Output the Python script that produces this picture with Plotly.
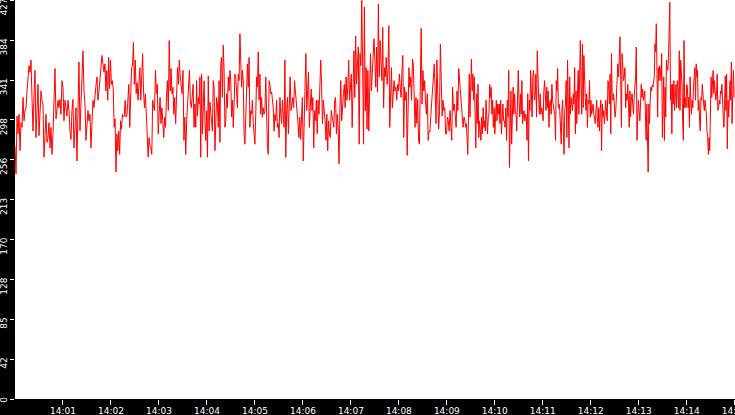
import numpy as np
import pandas as pd
import plotly.graph_objects as go

# Readings, in eight consecutive 112.5-second blocks from 14:00:00 to 14:15:00
seg_1 = [271,241,303,284,305,266,296,291,323,298,309,312,330,345,357,350,363,323,287,325,352,280,305,337,282,312,330,320,316,259,295,305,275,280,296,269,291,262,284,327,354,300,311,320,312,321,305,341,334,298,320,307,303,320,309,287,278,309,321,269,293,312,255,298,361,287,320,355,373,330,316,277,291,309,298,305,269,305,320,312,327,336,345,320,330,341,355,368,359,350]
seg_2 = [359,330,352,320,366,332,363,337,341,332,291,300,243,284,266,287,262,298,289,305,302,303,320,302,305,320,337,291,320,355,357,382,337,363,327,339,320,341,355,320,345,370,330,312,327,291,284,259,280,271,269,262,320,312,309,352,327,337,284,305,323,295,312,298,280,302,291,323,341,309,384,330,354,327,334,305,323,295,341,355,337,363,345,334,327,352,277,302,262,298,320,330,352,320,312,323,337,291]
seg_3 = [316,291,341,303,323,316,345,259,348,284,309,341,298,277,309,259,346,287,318,305,296,287,341,334,266,309,323,316,291,341,275,359,366,323,379,352,291,298,327,312,345,330,352,341,302,320,291,316,348,345,327,312,348,341,391,359,334,352,341,284,273,302,327,359,334,366,291,309,305,320,295,277,273,305,345,334,372,320,348,305,323,302,312,305,309,345,298,271,262,341,337,327,329,320,312,287,305,298,320,291,295,280,323,305,295,320,302,291]
seg_4 = [363,259,309,323,284,316,345,309,320,323,312,341,330,320,309,295,280,302,278,302,323,255,302,341,370,309,345,350,291,320,332,309,323,269,309,298,320,284,320,305,355,363,337,295,320,309,298,277,305,266,298,284,280,309,302,295,291,320,323,284,305,287,252,312,341,298,320,327,337,312,345,320,334,363,320,337,348,291,355,373,323,389,337,355,377,273,370,357,427,355,273,420,309,355,289,352,287,330,370,330,345,363,386]
seg_5 = [363,334,377,329,423,345,384,363,341,398,312,355,345,366,337,352,400,291,323,355,312,337,341,330,334,320,337,330,348,334,323,352,368,280,334,320,329,261,309,355,334,345,320,364,359,320,291,323,295,321,277,273,334,397,316,352,330,341,318,305,327,277,287,286,303,320,323,348,359,330,295,363,305,289,309,380,341,303,320,309,312,284,284,302,298,287,309,291,277,334,309,316,295,291,330,309,354,341,325,316,309,291,302]
seg_6 = [298,291,295,280,262,305,348,302,345,364,330,348,320,345,305,269,327,295,337,280,298,287,277,302,284,312,291,298,287,320,298,284,302,305,337,323,334,305,320,291,312,284,302,320,298,316,305,316,295,320,284,302,316,298,298,291,312,277,320,302,352,248,302,330,273,320,334,305,327,309,305,287,312,352,320,302,327,305,341,295,305,309,298,305,302,277,327,255,320,309,352,320,302,345,352,320,323,348,302,373,323,320,305,327,305,312,309,298,330,341,327,309,334,312,330,291,316,320,305,337,320,312,309]
seg_7 = [305,277,341,330,354,312,316,309,291,273,309,320,287,262,309,316,341,280,363,312,269,345,305,323,316,309,327,316,355,284,330,295,327,352,305,350,384,337,305,380,312,368,337,323,309,327,291,320,316,341,302,320,305,312,316,305,302,295,309,320,302,291,312,287,309,320,266,316,302,309,295,316,320,305,298,341,337,316,348,284,370,323,320,327,312,302,309,323,334,359,345,363,388,341,291,370,348,341,345,355,312,327,320,337,316,291,330,302,320,327,316,305,323,334,345,377,277,305,320,309,298,316,337,323,332,320,327]
seg_8 = [330,302,277,316,280,243,316,295,320,334,330,336,334,341,345,380,372,402,363,302,355,341,357,352,341,370,280,320,345,277,334,302,363,355,352,366,388,425,320,337,284,337,316,341,309,327,337,312,341,334,312,373,309,363,345,337,298,277,384,312,323,312,337,334,312,323,291,345,320,305,320,312,334,348,355,320,359,345,352,309,320,298,287,323,320,337,320,316,309,320,312,305,287,280,262,280,266,316,345,323,337,352,327,341,330,320,327,348,309,312,320,316,330,327,337,309,302,291,320,346,309,348,268,320,302,327,341,320,361,295,341,352,323]

segments = [seg_1, seg_2, seg_3, seg_4, seg_5, seg_6, seg_7, seg_8]
start_time = "2024-01-01 14:00:00"
end_time = "2024-01-01 14:15:00"
block_seconds = 112.5

x_tick_labels = ["14:01", "14:02", "14:03", "14:04", "14:05", "14:06", "14:07", "14:08",
                 "14:09", "14:10", "14:11", "14:12", "14:13", "14:14", "14:15"]

y_max = 427
y_tick_vals = [y_max * k / 10 for k in range(11)]
y_tick_text = [str(int(v)) for v in y_tick_vals]

t0 = pd.Timestamp(start_time)
times, values = [], []
for k, seg in enumerate(segments):
    offs = np.arange(len(seg)) * block_seconds / len(seg) + k * block_seconds
    times.extend(t0 + pd.to_timedelta(offs, unit="s"))
    values.extend(seg)

x_tick_vals = [pd.Timestamp("2024-01-01 " + s) for s in x_tick_labels]

# pad short labels so that every rotated label ends at its tick
NB = "\u00a0"
y_tick_disp = [(NB * (2 * (3 - len(t))) + t) for t in y_tick_text]

fig = go.Figure(go.Scatter(x=times, y=values, mode="lines",
                           line=dict(color="#ff0000", width=1),
                           hoverinfo="skip"))

font = dict(family="DejaVu Sans", size=9, color="white")
fig.update_layout(
    width=735, height=415, autosize=False,
    margin=dict(l=15, r=0, t=0, b=16, pad=0),
    paper_bgcolor="black", plot_bgcolor="white",
    showlegend=False, font=font,
)
fig.update_xaxes(
    range=[pd.Timestamp(start_time), pd.Timestamp(end_time) + pd.Timedelta(milliseconds=300)],
    type="date", tickmode="array", tickvals=x_tick_vals, ticktext=x_tick_labels,
    ticks="outside", ticklen=5, tickwidth=1, tickcolor="white",
    tickfont=font, showgrid=False, zeroline=False, showline=False,
    automargin=False, fixedrange=True, ticklabelstandoff=-2, ticklabeloverflow="allow",
)
fig.update_yaxes(
    range=[0, y_max + 0.4], tickmode="array", tickvals=y_tick_vals, ticktext=y_tick_disp,
    tickangle=-90, ticks="outside", ticklen=4, tickwidth=1, tickcolor="white",
    tickfont=font, showgrid=False, zeroline=False, showline=False,
    automargin=False, fixedrange=True, ticklabelshift=8, ticklabelstandoff=-1,
    ticklabeloverflow="allow",
)
fig.write_html("out.html", config={"responsive": False, "displayModeBar": False})

with open("out.html", encoding="utf-8") as f:
    html = f.read()
html = html.replace("<head>", "<head><style>html,body{margin:0;padding:0;overflow:hidden;background:black}</style>", 1)
with open("out.html", "w", encoding="utf-8") as f:
    f.write(html)
